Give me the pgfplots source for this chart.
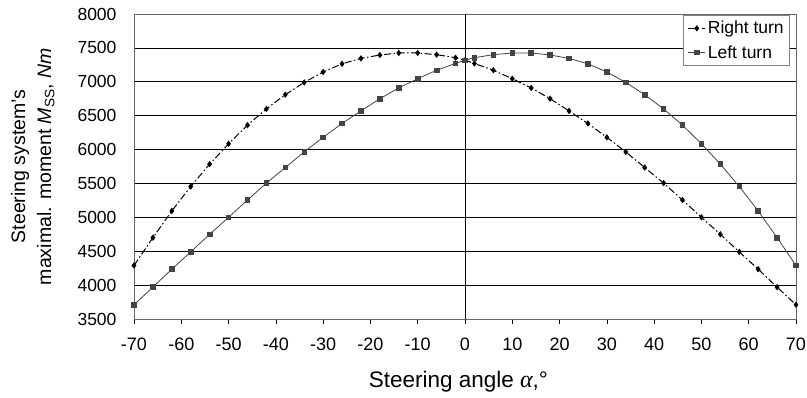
\documentclass[border=0pt]{standalone}
\usepackage{pgfplots}
\pgfplotsset{compat=1.18}
\usepackage{fontspec}
\setmainfont{Liberation Sans}
\newfontfamily\serifit{Liberation Serif}

\pgfplotstableread{
x y
-70 4290
-66 4700
-62 5095
-58 5455
-54 5785
-50 6085
-46 6360
-42 6600
-38 6810
-34 6990
-30 7145
-26 7265
-22 7345
-18 7395
-14 7425
-10 7425
-6 7400
-2 7355
0 7318
2 7270
6 7170
10 7045
14 6910
18 6750
22 6570
26 6385
30 6180
34 5965
38 5735
42 5505
46 5255
50 5000
54 4750
58 4490
62 4235
66 3970
70 3710
}\righttable

\pgfplotstableread{
x y
-70 3710
-66 3970
-62 4235
-58 4490
-54 4750
-50 5000
-46 5255
-42 5505
-38 5735
-34 5965
-30 6180
-26 6385
-22 6570
-18 6750
-14 6910
-10 7045
-6 7170
-2 7270
0 7318
2 7355
6 7400
10 7425
14 7425
18 7395
22 7345
26 7265
30 7145
34 6990
38 6810
42 6600
46 6360
50 6085
54 5785
58 5455
62 5095
66 4700
70 4290
}\lefttable

\definecolor{leftgray}{HTML}{444444}

\begin{document}
\begin{tikzpicture}
\begin{axis}[
  at={(0pt,0pt)}, anchor=south west,
  scale only axis, width=662pt, height=305pt,
  xmin=-70, xmax=70, ymin=3500, ymax=8000,
  xtick={-70,-60,...,70},
  ytick={3500,4000,...,8000},
  ymajorgrids,
  major grid style={black, line width=0.7pt},
  axis line style={black!60, line width=0.9pt},
  tick align=outside,
  xtick pos=left,
  ytick style={draw=none},
  xtick style={black, line width=0.7pt},
  major tick length=5pt,
  extra x ticks={0},
  extra x tick labels={},
  extra x tick style={grid=major, major tick length=0pt},
  /pgf/number format/assume math mode=true,
  /pgf/number format/1000 sep={},
  xticklabel style={font=\fontsize{18}{20}\selectfont, yshift=-10pt},
  yticklabel style={font=\fontsize{17.5}{20}\selectfont, xshift=-9pt},
  xlabel={Steering angle {\serifit\itshape\fontsize{24}{24}\selectfont α},°},
  xlabel style={font=\fontsize{22.5}{24}\selectfont, at={(axis description cs:0.49,-0.207)}, anchor=center},
  ylabel={Steering system’s\\maximal. moment \textit{M}\textsubscript{SS}, \textit{Nm}},
  ylabel style={font=\fontsize{19.5}{26}\selectfont, align=center, at={(axis description cs:-0.153,0.5)}, anchor=center},
  legend style={at={(axis description cs:0.991,0.997)}, anchor=north east,
    draw=black!50, line width=0.6pt, font=\fontsize{17.5}{19}\selectfont,
    row sep=6pt, inner xsep=4pt, inner ysep=4pt},
  legend cell align=left,
]
\addplot[black, line width=1pt, dash pattern=on 7pt off 2.5pt on 1.5pt off 2.5pt,
  mark=diamond*, mark size=2.4pt, mark options={solid, fill=black}] table[x=x,y=y] {\righttable};
\addlegendentry{Right turn}
\addplot[leftgray, line width=0.8pt, mark=square*, mark size=2.3pt,
  mark options={solid, fill=leftgray}] table[x=x,y=y] {\lefttable};
\addlegendentry{Left turn}
\end{axis}
\pgfresetboundingbox
\path[use as bounding box] (-134pt,-79pt) rectangle (673pt,319pt);
\end{tikzpicture}
\end{document}
